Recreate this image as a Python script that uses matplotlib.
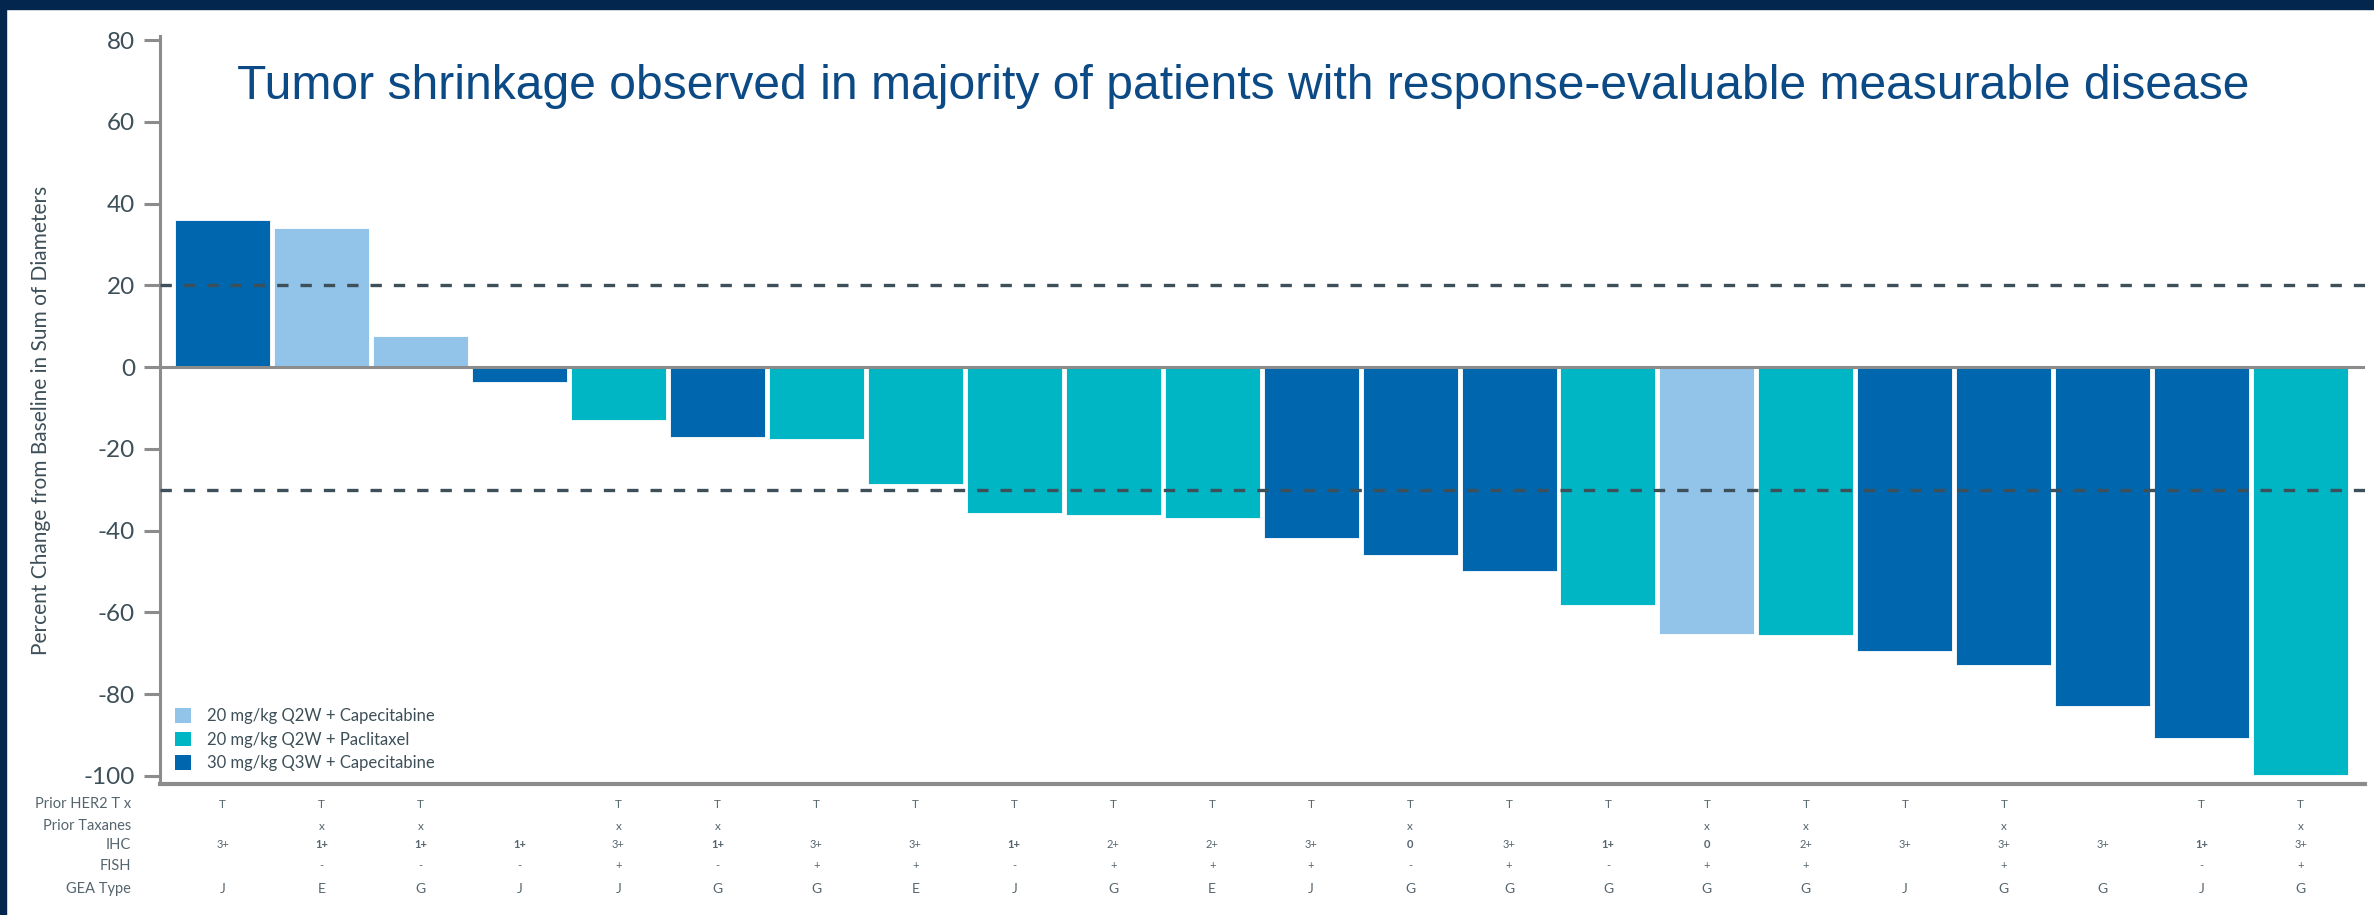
import matplotlib
matplotlib.use('Agg')
import matplotlib.pyplot as plt
from matplotlib.patches import Patch, Rectangle
from matplotlib.transforms import blended_transform_factory

plt.rcParams['axes.unicode_minus'] = False

# tumour change per patient (%), sorted as in the waterfall
change = [36.1, 34.0, 7.5, -3.7, -13.0, -17.2, -17.7, -28.5, -35.6, -36.3, -37.0,
          -41.7, -46.0, -49.8, -58.2, -65.2, -65.6, -69.4, -72.9, -82.8, -90.8, -99.8]
# 0 = 20 mg/kg Q2W + Capecitabine, 1 = 20 mg/kg Q2W + Paclitaxel, 2 = 30 mg/kg Q3W + Capecitabine
arm = [2, 0, 0, 2, 1, 2, 1, 1, 1, 1, 1, 2, 2, 2, 1, 0, 1, 2, 2, 2, 2, 1]
arm_names = ['20 mg/kg Q2W + Capecitabine', '20 mg/kg Q2W + Paclitaxel',
             '30 mg/kg Q3W + Capecitabine']
arm_colors = ['#92c3e9', '#00b5c4', '#0066ae']

row_labels = ['Prior HER2 T x', 'Prior Taxanes', 'IHC', 'FISH', 'GEA Type']
prior_her2 = ['T', 'T', 'T', '', 'T', 'T', 'T', 'T', 'T', 'T', 'T',
              'T', 'T', 'T', 'T', 'T', 'T', 'T', 'T', '', 'T', 'T']
prior_tax = ['', 'x', 'x', '', 'x', 'x', '', '', '', '', '',
             '', 'x', '', '', 'x', 'x', '', 'x', '', '', 'x']
ihc = ['3+', '1+', '1+', '1+', '3+', '1+', '3+', '3+', '1+', '2+', '2+',
       '3+', '0', '3+', '1+', '0', '2+', '3+', '3+', '3+', '1+', '3+']
fish = ['', '-', '-', '-', '+', '-', '+', '+', '-', '+', '+',
        '+', '-', '+', '-', '+', '+', '', '+', '', '-', '+']
gea = ['J', 'E', 'G', 'J', 'J', 'G', 'G', 'E', 'J', 'G', 'E',
       'J', 'G', 'G', 'G', 'G', 'G', 'J', 'G', 'G', 'J', 'G']

W, H = 2374, 915
fig = plt.figure(figsize=(W / 100, H / 100), dpi=100)
ax = fig.add_axes([160 / W, 1 - 784 / H, (2365 - 160) / W, (784 - 36) / H])

grey = '#8c8c8c'
slate = '#3d4f58'
txt = '#55656d'

x = list(range(len(change)))
ax.bar(x, change, width=0.96, color=[arm_colors[a] for a in arm],
       edgecolor='white', linewidth=0.6, zorder=2)
ax.axhline(0, color=grey, lw=2.2, zorder=3)
for yv in (20, -30):
    ax.axhline(yv, color=slate, lw=2.4, dashes=(3.4, 3.6), zorder=4)

ax.set_xlim(-0.632, 21.65)
ax.set_ylim(-102, 81)
ax.set_yticks(range(-100, 81, 20))
ax.set_xticks([])
for s in ('top', 'right'):
    ax.spines[s].set_visible(False)
for s in ('left', 'bottom'):
    ax.spines[s].set_color(grey)
    ax.spines[s].set_linewidth(2.2)
ax.spines['bottom'].set_linewidth(3)
ax.tick_params(axis='y', length=11.5, width=2.2, color=grey, pad=6.5,
               labelsize=17.5, labelcolor=slate)
for t in ax.get_yticklabels():
    t.set_family('Lato')

fig.text(41 / W, 1 - 420 / H, 'Percent Change from Baseline in Sum of Diameters',
         rotation=90, ha='center', va='center', fontsize=15, color=slate, family='Lato')

fig.text(1243 / W, 1 - 99 / H,
         'Tumor shrinkage observed in majority of patients with response-evaluable measurable disease',
         ha='center', va='baseline', fontsize=34.6, color='#0c4a86', family='Liberation Sans')

handles = [Patch(facecolor=c, edgecolor='none') for c in arm_colors]
ax.legend(handles, arm_names, loc='lower left', bbox_to_anchor=(175 / W, 1 - 771 / H),
          bbox_transform=fig.transFigure, frameon=False,
          handlelength=0.96, handleheight=0.96, handletextpad=0.96,
          labelspacing=0.45, borderpad=0, borderaxespad=0,
          prop={'family': 'Lato', 'size': 12}, labelcolor=slate)

# table under the bars
tr = blended_transform_factory(ax.transData, fig.transFigure)
row_y = [804, 826, 845, 866, 889]
rows = [prior_her2, prior_tax, ihc, fish, gea]
sizes = [8.5, 8.5, 8, 8, 10]
narrow = ['Liberation Sans Narrow', 'Lato', 'DejaVu Sans']
for lab, yy in zip(row_labels, row_y):
    fig.text(131 / W, 1 - yy / H, lab, ha='right', va='center', fontsize=10.5,
             color=txt, family='Lato')
for vals, yy, fs in zip(rows, row_y, sizes):
    for i, v in enumerate(vals):
        if not v:
            continue
        bold = v in ('1+', '0') and vals is ihc
        ax.text(i, 1 - yy / H, v, transform=tr, ha='center', va='center',
                fontsize=fs, color=txt, family=narrow,
                fontweight='bold' if bold else 'normal')

# navy slide frame
fig.patches.append(Rectangle((0, 1 - 9 / H), 1, 9 / H, transform=fig.transFigure,
                             color='#03264f', zorder=10))
fig.patches.append(Rectangle((0, 0), 6 / W, 1, transform=fig.transFigure,
                             color='#03264f', zorder=10))

fig.savefig('out.png', dpi=100, facecolor='white')
